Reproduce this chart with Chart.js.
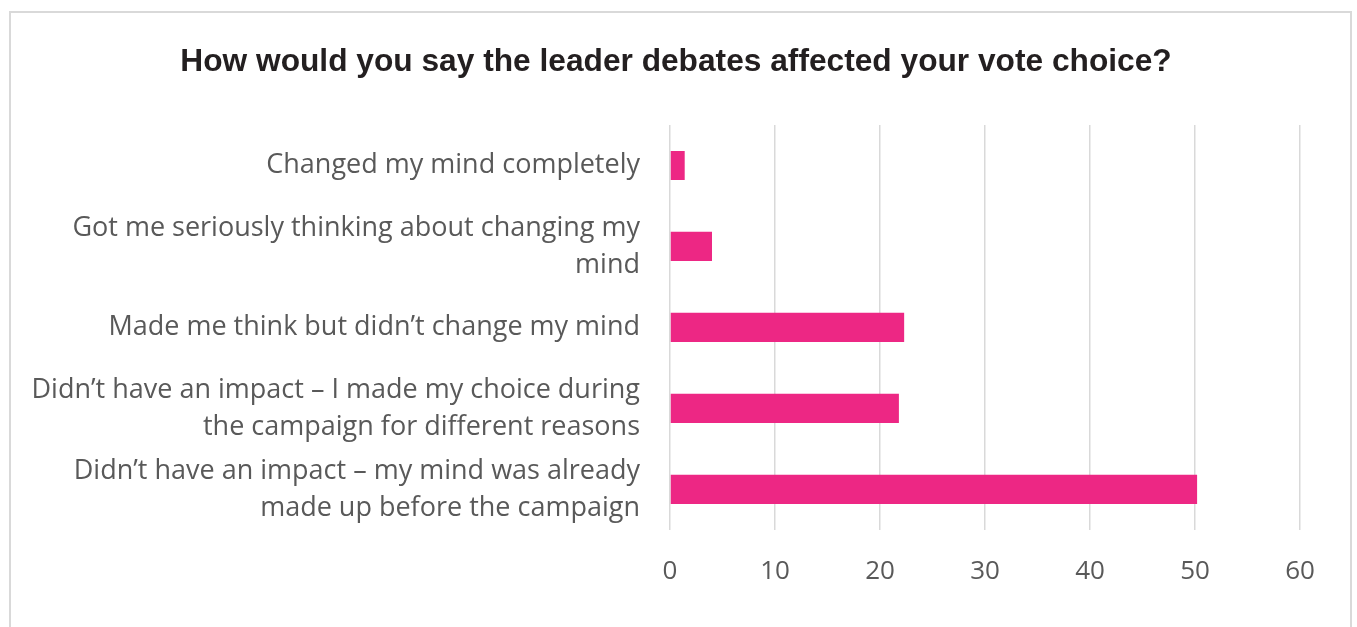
<!DOCTYPE html>
<html>
<head>
<meta charset="utf-8">
<title>Leader debates and vote choice</title>
<script src="https://cdn.jsdelivr.net/npm/chart.js@4.4.1/dist/chart.umd.min.js"></script>
<style>
    html, body { margin: 0; padding: 0; background: #fff; overflow: hidden; }
    #frame {
        position: absolute;
        left: 9px; top: 11px;
        width: 1343px; height: 660px;
        border: 2px solid #d9d9d9;
        box-sizing: border-box;
    }
    #wrap { position: absolute; left: 0; top: 0; width: 1357px; height: 627px; }
</style>
</head>
<body>
<div id="frame"></div>
<div id="wrap"><canvas id="chart"></canvas></div>
<script>
const TITLE = "How would you say the leader debates affected your vote choice?";

// multi-line category labels, top to bottom
const categories = [
    ["Changed my mind completely"],
    ["Got me seriously thinking about changing my", "mind"],
    ["Made me think but didn\u2019t change my mind"],
    ["Didn\u2019t have an impact \u2013 I made my choice during", "the campaign for different reasons"],
    ["Didn\u2019t have an impact \u2013 my mind was already", "made up before the campaign"],
];

const percentages = [1.4, 4.0, 22.3, 21.8, 50.2];

const xTicks = [0, 10, 20, 30, 40, 50, 60];

const PINK = "#ed2784";
const GRID = "#d9d9d9";
const TEXT = "#595959";

// title centred over the frame rather than the padded layout box
const frameTitle = {
    id: "frameTitle",
    afterDraw(chart) {
        const ctx = chart.ctx;
        ctx.save();
        ctx.font = "bold 31.7px 'Liberation Sans', Arial, sans-serif";
        ctx.fillStyle = "#231f20";
        ctx.textAlign = "center";
        ctx.textBaseline = "middle";
        ctx.fillText(TITLE, 676, 62);
        ctx.restore();
    },
};

new Chart(document.getElementById("chart"), {
    type: "bar",
    data: {
        labels: categories,
        datasets: [
            {
                data: percentages,
                backgroundColor: PINK,
                borderWidth: 0,
                categoryPercentage: 1,
                barPercentage: 0.36,
            },
        ],
    },
    options: {
        indexAxis: "y",
        responsive: true,
        maintainAspectRatio: false,
        animation: false,
        layout: { padding: { top: 125, right: 57, bottom: 14, left: 0 } },
        plugins: {
            legend: { display: false },
            tooltip: { enabled: false },
            title: { display: false },
        },
        scales: {
            x: {
                min: xTicks[0],
                max: xTicks[xTicks.length - 1],
                afterBuildTicks: (scale) => {
                    scale.ticks = xTicks.map((v) => ({ value: v }));
                },
                grid: { color: GRID, lineWidth: 1.5, drawTicks: false },
                border: { display: false },
                ticks: {
                    color: TEXT,
                    padding: 26,
                    font: { family: "'Open Sans', sans-serif", size: 26, lineHeight: 1.2 },
                },
            },
            y: {
                grid: { display: false },
                border: { display: false },
                afterFit: (scale) => { scale.width = 670; },
                ticks: {
                    autoSkip: false,
                    color: TEXT,
                    padding: 22,
                    font: { family: "'Open Sans', sans-serif", size: 27, lineHeight: 1.37 },
                },
            },
        },
    },
    plugins: [frameTitle],
});
</script>
</body>
</html>
